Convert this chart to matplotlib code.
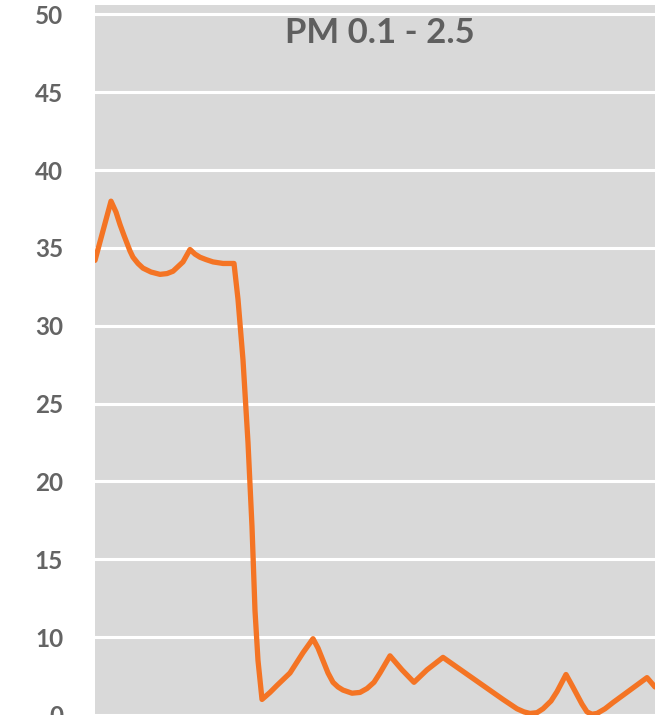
import matplotlib
matplotlib.use("Agg")
import matplotlib.pyplot as plt

# readings (time steps, PM value)
times = [0, 16, 21, 25, 29, 32, 35, 38, 43, 48, 56, 65, 72, 78, 83, 88, 95,
         100, 105, 111, 118, 128, 139,
         143, 148, 153, 157, 160, 163, 167, 175, 182, 195, 208, 218,
         223, 228, 233, 238, 243, 248, 257, 265, 272, 279, 285, 295, 307, 319, 332, 348,
         368, 388, 408, 422, 429, 435, 442, 448, 456, 462, 471, 477, 482, 487, 492, 497, 502,
         510, 518, 535, 552, 560]
pm = [34.2, 38.0, 37.3, 36.5, 35.8, 35.3, 34.8, 34.4, 34.0, 33.7, 33.45, 33.3, 33.35, 33.5, 33.8, 34.1, 34.9,
      34.6, 34.4, 34.25, 34.1, 34.0, 34.0,
      31.7, 27.8, 22.5, 17.1, 11.7, 8.5, 6.0, 6.45, 6.9, 7.7, 9.0, 9.9,
      9.3, 8.5, 7.7, 7.1, 6.8, 6.6, 6.4, 6.45, 6.7, 7.1, 7.7, 8.8, 7.9, 7.1, 7.9, 8.7,
      7.8, 6.9, 6.0, 5.4, 5.2, 5.1, 5.15, 5.4, 5.9, 6.5, 7.6, 6.9, 6.3, 5.7, 5.2, 5.05, 5.1,
      5.4, 5.8, 6.6, 7.4, 6.8]

ytick_pos = [5, 10, 15, 20, 25, 30, 35, 40, 45, 50]
ytick_labels = ["0", "10", "15", "20", "25", "30", "35", "40", "45", "50"]
title = "PM 0.1 - 2.5"

plt.rcParams['font.family'] = ['Lato', 'DejaVu Sans']

fig = plt.figure(figsize=(6.55, 7.15), dpi=100)
ax = fig.add_axes([95 / 655, 0.0, 560 / 655, 1 - 5 / 715])
ax.set_facecolor('#d9d9d9')

ax.plot(times, pm, color='#f47424', linewidth=3.8, solid_joinstyle='round',
        solid_capstyle='round', zorder=3)

ax.set_xlim(0, 560)
ax.set_ylim(5, 50.6)
ax.set_yticks(ytick_pos)
ax.set_yticklabels(ytick_labels)
ax.set_xticks([])
ax.yaxis.grid(True, color='white', linewidth=2.2)
ax.set_axisbelow(True)
ax.tick_params(axis='y', length=0, pad=23, labelsize=17.5, labelcolor='#646464')
for lab in ax.get_yticklabels():
    lab.set_fontweight('bold')
for s in ax.spines.values():
    s.set_visible(False)

ax.text(0.509, 1 - 28 / 710, title, transform=ax.transAxes, ha='center', va='center',
        fontsize=25, fontweight='bold', color='#5f5f5f')

plt.savefig('out.png', dpi=100)
